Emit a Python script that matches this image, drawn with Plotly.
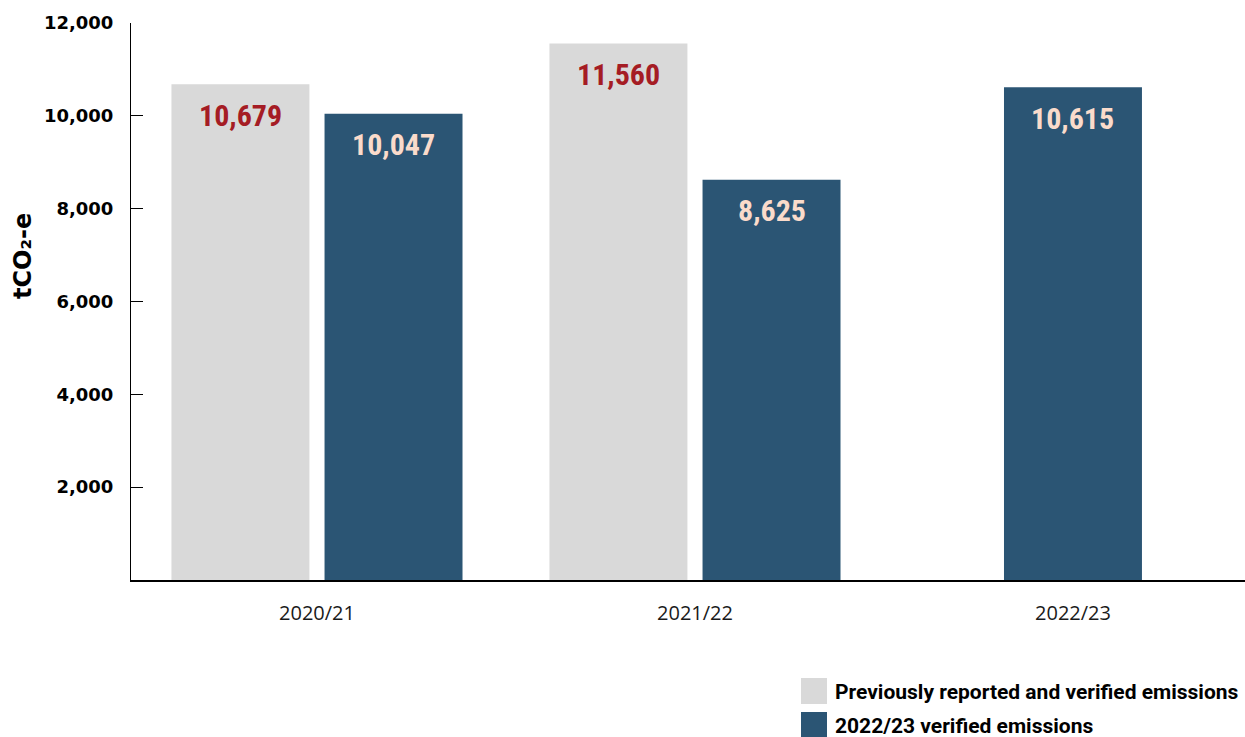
import plotly.graph_objects as go

# ---------------- data ----------------
categories = ["2020/21", "2021/22", "2022/23"]
previous_values = [10679, 11560, None]
verified_values = [10047, 8625, 10615]
series_names = ["Previously reported and verified emissions", "2022/23 verified emissions"]
y_tick_values = [2000, 4000, 6000, 8000, 10000, 12000]
y_tick_labels = ["2,000", "4,000", "6,000", "8,000", "10,000", "12,000"]
y_title = "tCO₂-e"

# ---------------- style ----------------
GREY = "#D9D9D9"
BLUE = "#2B5574"
RED = "#A51C24"
PEACH = "#FADBCB"
W, H = 1245, 737
ML, MR, MT, MB = 131, 0, 23, 157
BAR_W = 0.365
GAP = 0.04
NUM_FONT = "Liberation Sans Narrow, Roboto Condensed, Roboto, sans-serif"

xpos = list(range(len(categories)))
prev_x = [i for i, v in zip(xpos, previous_values) if v is not None]
prev_y = [v for v in previous_values if v is not None]
prev_off = [-(BAR_W + GAP / 2)] * len(prev_x)
ver_off = [(GAP / 2 if previous_values[i] is not None else -BAR_W / 2) for i in xpos]

fig = go.Figure()
fig.add_trace(go.Bar(x=prev_x, y=prev_y, offset=prev_off, width=BAR_W,
                     marker=dict(color=GREY, line=dict(width=0)),
                     name=series_names[0], showlegend=False))
fig.add_trace(go.Bar(x=xpos, y=verified_values, offset=ver_off, width=BAR_W,
                     marker=dict(color=BLUE, line=dict(width=0)),
                     name=series_names[1], showlegend=False))

annotations = []
for xi, v, off in zip(prev_x, prev_y, prev_off):
    annotations.append(dict(x=xi + off + BAR_W / 2, y=v, xref="x", yref="y",
                            text=f"{v:,}", showarrow=False, yanchor="middle", yshift=-31,
                            font=dict(family=NUM_FONT, size=30, color=RED, weight="bold")))
for xi, v, off in zip(xpos, verified_values, ver_off):
    annotations.append(dict(x=xi + off + BAR_W / 2, y=v, xref="x", yref="y",
                            text=f"{v:,}", showarrow=False, yanchor="middle", yshift=-31,
                            font=dict(family=NUM_FONT, size=30, color=PEACH, weight="bold")))

# y-axis title
annotations.append(dict(x=(23 - ML) / (W - ML - MR), y=(H - MB - 256) / (H - MT - MB),
                        xref="paper", yref="paper", text=y_title, textangle=-90,
                        showarrow=False, xanchor="center", yanchor="middle",
                        font=dict(family="DejaVu Sans", size=24, color="black", weight="bold")))

# manual legend
pw = W - ML - MR
ph = H - MT - MB
def px_x(p):
    return (p - ML) / pw
def px_y(p):
    return (H - MB - p) / ph

shapes = []
legend_items = [(series_names[0], GREY, 678), (series_names[1], BLUE, 712)]
for name, col, top in legend_items:
    shapes.append(dict(type="rect", xref="paper", yref="paper",
                       x0=px_x(801), x1=px_x(827), y0=px_y(top + 26), y1=px_y(top),
                       fillcolor=col, line=dict(width=0)))
    annotations.append(dict(x=px_x(833), y=px_y(top + 14), xref="paper", yref="paper",
                            text=name, showarrow=False, xanchor="left", yanchor="middle",
                            font=dict(family="Roboto", size=21, color="black", weight="bold")))

fig.update_layout(
    width=W, height=H,
    margin=dict(l=ML, r=MR, t=MT, b=MB, pad=0),
    plot_bgcolor="white", paper_bgcolor="white",
    barmode="overlay",
    showlegend=False,
    annotations=annotations,
    shapes=shapes,
    xaxis=dict(
        range=[-0.492, -0.492 + 1114 / 378],
        tickmode="array", tickvals=xpos, ticktext=categories,
        showgrid=False, zeroline=False,
        showline=True, linecolor="black", linewidth=2,
        ticks="", ticklabelstandoff=14,
        tickfont=dict(family="Open Sans", size=20, color="#1a1a1a"),
    ),
    yaxis=dict(
        range=[0, 12000],
        tickmode="array", tickvals=y_tick_values, ticktext=y_tick_labels,
        showgrid=False, zeroline=False,
        showline=True, linecolor="black", linewidth=1,
        ticks="inside", ticklen=12, tickcolor="black", tickwidth=1,
        ticklabelstandoff=13,
        tickfont=dict(family="DejaVu Sans", size=18, color="black", weight="bold"),
    ),
)

fig.write_html("out.html")
